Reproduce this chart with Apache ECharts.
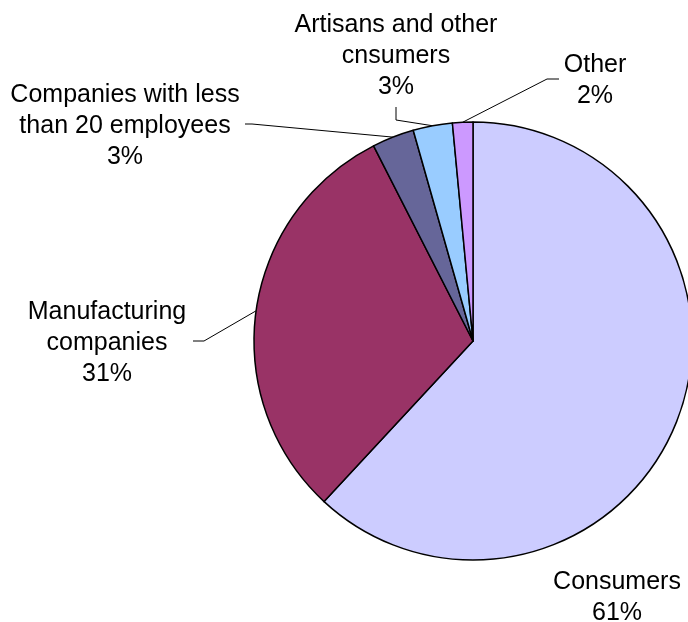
<!DOCTYPE html>
<html>
<head>
<meta charset="utf-8">
<script src="https://cdn.jsdelivr.net/npm/echarts@6/dist/echarts.min.js"></script>
<style>
html,body{margin:0;padding:0;background:#fff;}
#chart{width:688px;height:622px;}
</style>
</head>
<body>
<div id="chart"></div>
<script>
// Data
var categories = ['Consumers', 'Manufacturing\ncompanies', 'Companies with less\nthan 20 employees', 'Artisans and other\ncnsumers', 'Other'];
var values = [61.9, 30.6, 3.1, 2.9, 1.5];
var percentLabels = ['61%', '31%', '3%', '3%', '2%'];
var colors = ['#CCCCFF', '#993366', '#666699', '#99CCFF', '#CC99FF'];

// Label placement (style only)
var labelPos = [
  {x: 617, y: 598, line: null},
  {x: 107, y: 343, line: [[204, 341], [193, 341]]},
  {x: 125, y: 126, line: [[252, 124], [245, 124]]},
  {x: 396, y: 56, line: [[396, 120], [396, 107]]},
  {x: 595, y: 81, line: [[547, 79], [559, 79]]}
];

var data = categories.map(function (c, i) {
  return {
    name: c,
    value: values[i],
    itemStyle: {color: colors[i]},
    labelLine: {show: labelPos[i].line !== null}
  };
});

var chart = echarts.init(document.getElementById('chart'), null, {renderer: 'canvas'});
chart.setOption({
  animation: false,
  backgroundColor: '#ffffff',
  series: [{
    type: 'pie',
    center: [473, 341],
    radius: 219,
    startAngle: 90,
    clockwise: true,
    avoidLabelOverlap: false,
    silent: true,
    data: data,
    itemStyle: {borderColor: '#000000', borderWidth: 1.5},
    label: {
      show: true,
      position: 'outside',
      color: '#000000',
      fontFamily: 'Liberation Sans, Arial, sans-serif',
      fontSize: 25,
      lineHeight: 31,
      align: 'center',
      formatter: function (p) {
        return p.name + '\n' + percentLabels[p.dataIndex];
      }
    },
    labelLine: {
      show: true,
      lineStyle: {color: '#000000', width: 1}
    },
    labelLayout: function (params) {
      var lp = labelPos[params.dataIndex];
      var res = {x: lp.x, y: lp.y, align: 'center', verticalAlign: 'middle'};
      if (lp.line && params.labelLinePoints) {
        var start = params.labelLinePoints[0];
        res.labelLinePoints = [start].concat(lp.line);
      }
      return res;
    }
  }]
});
</script>
</body>
</html>
